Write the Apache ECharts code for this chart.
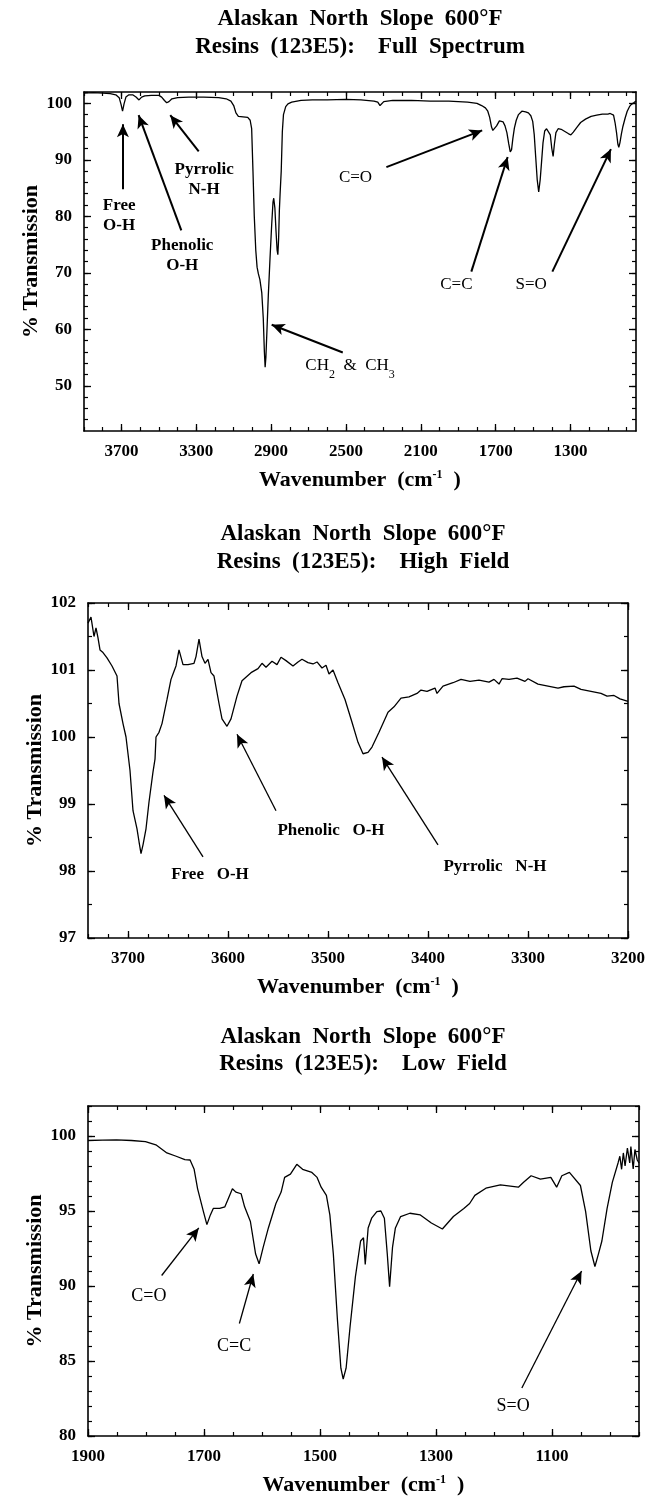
<!DOCTYPE html>
<html>
<head>
<meta charset="utf-8">
<script src="https://cdn.jsdelivr.net/npm/echarts@6/dist/echarts.min.js"></script>
<style>
  html, body { margin: 0; padding: 0; background: #fff; }
  #main { width: 648px; height: 1503px; }
</style>
</head>
<body>
<div id="main"></div>
<script>
// 颜色 / 字体
const ink = '#000';
const serif = 'Liberation Serif';

// ---------- Full Spectrum ----------
const fullWave = [3900,3850,3800,3760,3730,3712,3702,3694,3686,3676,
  3660,3640,3622,3606,3592,3575,3540,3500,3485,3470,
  3458,3446,3430,3400,3340,3260,3180,3140,3115,3100,
  3088,3075,3050,3025,3012,3004,2997,2990,2982,2975,
  2968,2960,2950,2942,2936,2932,2928,2922,2915,2906,
  2897,2890,2886,2880,2874,2868,2864,2860,2856,2852,
  2846,2840,2834,2822,2810,2790,2740,2680,2600,2500,
  2420,2350,2330,2318,2308,2298,2250,2150,2050,1950,
  1850,1800,1775,1755,1742,1732,1722,1715,1705,1695,
  1680,1670,1660,1650,1640,1630,1622,1615,1608,1600,
  1590,1578,1560,1540,1525,1512,1502,1494,1486,1478,
  1470,1462,1455,1447,1438,1428,1418,1408,1400,1393,
  1386,1378,1366,1350,1330,1310,1298,1285,1265,1246,
  1220,1190,1160,1130,1100,1088,1078,1070,1062,1054,
  1047,1042,1036,1028,1020,1008,997,985,975,962,950];
const fullTrans = [101.8,101.9,101.8,101.7,101.5,101.0,99.8,98.6,99.9,101.1,
  101.5,101.5,101.1,100.6,101.1,101.3,101.4,101.4,101.1,100.5,
  100.1,100.3,100.8,101.0,101.1,101.1,101.0,100.8,100.4,99.6,
  98.3,97.7,97.6,97.5,97.0,95.5,88,80,74,71,
  69.8,68.8,66.5,62,56,53.3,55,60,66,72.5,
  78.5,82.5,83.2,81.5,77.5,74,73.2,76,81,84,
  88,95,98,99.4,99.9,100.2,100.5,100.6,100.6,100.7,
  100.6,100.4,100.2,99.6,99.7,100.3,100.5,100.5,100.4,100.4,
  100.2,100.0,99.6,99.2,98.6,97.5,95.8,95.2,95.6,96.0,
  96.9,97.1,96.7,96.0,94.8,92.8,91.4,91.8,93.8,95.6,
  97.0,98.0,98.6,98.5,98.3,97.8,96.8,94.5,90.5,86.5,
  84.3,86.5,89.5,93,95.1,95.5,95.3,94.4,92,90.6,
  92.8,94.8,95.5,95.4,95.0,94.6,94.4,94.9,95.8,96.6,
  97.2,97.7,97.9,98.1,98.1,98.2,98.4,97.9,96.6,94.8,
  92.8,92.2,93.0,94.6,95.9,97.4,98.6,99.4,99.8,100.1,100.4];
const fullXLabels = [3700,3300,2900,2500,2100,1700,1300];
const fullYLabels = [50,60,70,80,90,100];

// ---------- High Field ----------
const highWave = [3740,3737,3734,3732,3730,3728,3725,3721,3716,3712,
  3711,3709,3705,3702,3698,3695,3691,3689,3687,3685,
  3682,3679,3675,3673,3672,3669,3666,3661,3657,3655,
  3652,3649,3645,3640,3634,3632,3629,3626,3623,3620,
  3617,3614,3609,3606,3601,3597,3591,3586,3577,3570,
  3566,3562,3556,3551,3547,3542,3535,3530,3526,3520,
  3515,3511,3506,3502,3499,3495,3490,3483,3476,3470,
  3465,3460,3456,3449,3440,3434,3427,3419,3411,3407,
  3401,3393,3391,3385,3375,3367,3358,3349,3339,3334,
  3329,3326,3319,3311,3303,3300,3290,3280,3270,3264,
  3254,3247,3237,3227,3221,3214,3208,3200];
const highTrans = [101.7,101.79,101.5,101.63,101.48,101.3,101.26,101.18,101.06,100.94,
  100.91,100.5,100.2,100.0,99.5,98.9,98.63,98.44,98.26,98.39,
  98.63,99.03,99.48,99.67,100.0,100.07,100.2,100.56,100.86,100.94,
  101.06,101.3,101.08,101.08,101.1,101.2,101.46,101.2,101.1,101.16,
  100.96,100.91,100.5,100.27,100.16,100.27,100.61,100.84,100.96,101.02,
  101.1,101.04,101.13,101.08,101.19,101.14,101.06,101.12,101.16,101.11,
  101.09,101.12,101.03,101.07,100.94,101.0,100.81,100.56,100.22,99.92,
  99.75,99.77,99.85,100.07,100.37,100.45,100.58,100.60,100.65,100.7,
  100.68,100.73,100.65,100.76,100.81,100.86,100.83,100.85,100.82,100.86,
  100.79,100.87,100.86,100.88,100.83,100.87,100.79,100.76,100.73,100.75,
  100.76,100.71,100.68,100.65,100.61,100.62,100.57,100.53];
const highXLabels = [3700,3600,3500,3400,3300,3200];
const highYLabels = [97,98,99,100,101,102];

// ---------- Low Field ----------
const lowWave = [1900,1875,1851,1825,1801,1783,1764,1748,1733,1724,
  1717,1711,1701,1695,1689,1684,1673,1664,1658,1651,
  1645,1636,1630,1620,1611,1605,1598,1589,1576,1567,
  1561,1551,1540,1530,1514,1505,1498,1489,1483,1477,
  1470,1464,1460,1455,1448,1439,1430,1425,1422,1417,
  1411,1402,1395,1389,1384,1380,1375,1370,1361,1345,
  1327,1308,1289,1270,1252,1242,1233,1214,1189,1158,
  1149,1136,1120,1102,1092,1083,1070,1051,1042,1033,
  1026,1020,1014,1005,996,986,983,980,977,974,
  970,966,964,960,957,953,950];
const lowTrans = [99.7,99.72,99.74,99.7,99.63,99.41,98.87,98.65,98.43,98.4,
  97.78,96.48,94.96,94.09,94.74,95.17,95.17,95.28,95.83,96.48,
  96.26,96.15,95.28,94.3,92.13,91.48,92.57,93.87,95.5,96.26,
  97.24,97.46,98.11,97.78,97.57,97.24,96.59,96.04,94.74,92.13,
  87.78,84.52,83.8,84.52,87.35,90.61,93.0,93.22,91.43,93.87,
  94.52,94.96,95.0,94.52,92.13,89.96,92.57,93.87,94.63,94.85,
  94.74,94.2,93.8,94.63,95.17,95.5,96.04,96.52,96.74,96.59,
  96.91,97.35,97.13,97.24,96.59,97.35,97.57,96.7,94.96,92.35,
  91.3,92.13,93.0,95.17,96.91,98.22,98.65,97.78,98.87,98.0,
  99.2,98.2,99.3,97.8,99.1,98.4,98.2];
const lowXLabels = [1900,1700,1500,1300,1100];
const lowYLabels = [80,85,90,95,100];

// 标注：文字位置 at，箭头 from -> to（数据坐标）
const fullNotes = [
  { text: 'Free\nO-H', at: [3712, 80.1], from: [3692, 84.8], to: [3692, 96.3], bold: true },
  { text: 'Phenolic\nO-H', at: [3375, 73.1], from: [3380, 77.5], to: [3608, 97.9], bold: true },
  { text: 'Pyrrolic\nN-H', at: [3258, 86.5], from: [3287, 91.5], to: [3439, 97.9], bold: true },
  { text: 'C=O', at: [2449, 86.8], from: [2284, 88.7], to: [1772, 95.2] },
  { text: 'C=C', at: [1910, 68], from: [1830, 70.2], to: [1636, 90.5] },
  { text: 'S=O', at: [1510, 68], from: [1397, 70.2], to: [1084, 91.9] },
  { text: 'CH{s|2}  &  CH{s|3}', at: [2478, 53.5], from: [2517, 55.9], to: [2897, 60.8] }
];
const highNotes = [
  { text: 'Free   O-H', at: [3618, 97.94], from: [3625, 98.21], to: [3664, 99.13], bold: true },
  { text: 'Phenolic   O-H', at: [3497, 98.6], from: [3552, 98.9], to: [3591, 100.04], bold: true },
  { text: 'Pyrrolic   N-H', at: [3333, 98.06], from: [3390, 98.39], to: [3446, 99.7], bold: true }
];
const lowNotes = [
  { text: 'C=O', at: [1795, 89.3], from: [1773, 90.7], to: [1709, 93.87] },
  { text: 'C=C', at: [1648, 86.0], from: [1639, 87.5], to: [1615, 90.8] },
  { text: 'S=O', at: [1167, 82.0], from: [1152, 83.2], to: [1049, 91.0] }
];

const subtitles = ['Full  Spectrum', 'High  Field', 'Low  Field'];

// 每个子图的布局
const panels = [
  { grid: { left: 84, top: 92, width: 552, height: 339 }, titleX: 360, titleY: [19, 47],
    xMin: 950, xMax: 3900, yMin: 42, yMax: 102, xMinor: [1000, 3900, 100], yMinor: [44, 102, 2], arrowW: 2, noteSize: 17 },
  { grid: { left: 88, top: 603, width: 550, height: 335 }, titleX: 363, titleY: [534, 562],
    xMin: 3200, xMax: 3740, yMin: 97, yMax: 102, xMinor: [3200, 3740, 20], yMinor: [97, 102, 0.5], arrowW: 1.3, noteSize: 17 },
  { grid: { left: 88, top: 1106, width: 551, height: 330 }, titleX: 363, titleY: [1037, 1064],
    xMin: 950, xMax: 1900, yMin: 80, yMax: 102, xMinor: [950, 1900, 50], yMinor: [80, 102, 1], arrowW: 1.3, noteSize: 18 }
];

function steps(from, to, step) {
  const out = [];
  for (let v = from; v <= to + 1e-9; v += step) out.push(+v.toFixed(2));
  return out;
}

const lineStyle = { color: ink, width: 1.6 };
const tickFont = { color: ink, fontFamily: serif, fontWeight: 'bold', fontSize: 17, formatter: v => String(v) };

function xAxes(g, p, labels) {
  const base = { type: 'value', gridIndex: g, min: p.xMin, max: p.xMax, inverse: true, splitLine: { show: false } };
  const minor = steps(p.xMinor[0], p.xMinor[1], p.xMinor[2]);
  return [
    Object.assign({}, base, {
      position: 'bottom',
      axisLine: { show: true, onZero: false, lineStyle: lineStyle },
      axisTick: { show: true, inside: true, length: 7, lineStyle: { color: ink, width: 1.3 }, customValues: labels },
      axisLabel: Object.assign({ show: true, customValues: labels, margin: 12 }, tickFont),
      name: 'Wavenumber  (cm{sup|-1}  )', nameLocation: 'middle', nameGap: 38, nameMoveOverlap: false,
      nameTextStyle: { color: ink, fontFamily: serif, fontWeight: 'bold', fontSize: 22,
        rich: { sup: { fontSize: 12, fontWeight: 'bold', fontFamily: serif, color: ink, verticalAlign: 'top' } } }
    }),
    Object.assign({}, base, {
      position: 'bottom', axisLine: { show: false, onZero: false },
      axisTick: { show: true, inside: true, length: 4, lineStyle: { color: ink, width: 1.2 }, customValues: minor },
      axisLabel: { show: false }
    }),
    Object.assign({}, base, {
      position: 'top', axisLine: { show: true, onZero: false, lineStyle: lineStyle },
      axisTick: { show: true, inside: true, length: 7, lineStyle: { color: ink, width: 1.3 }, customValues: labels },
      axisLabel: { show: false }
    }),
    Object.assign({}, base, {
      position: 'top', axisLine: { show: false, onZero: false },
      axisTick: { show: true, inside: true, length: 4, lineStyle: { color: ink, width: 1.2 }, customValues: minor },
      axisLabel: { show: false }
    })
  ];
}

function yAxes(g, p, labels) {
  const base = { type: 'value', gridIndex: g, min: p.yMin, max: p.yMax, splitLine: { show: false } };
  const minor = steps(p.yMinor[0], p.yMinor[1], p.yMinor[2]);
  return [
    Object.assign({}, base, {
      position: 'left',
      axisLine: { show: true, onZero: false, lineStyle: lineStyle },
      axisTick: { show: true, inside: true, length: 7, lineStyle: { color: ink, width: 1.3 }, customValues: labels },
      axisLabel: Object.assign({ show: true, customValues: labels, margin: 12 }, tickFont),
      name: '% Transmission', nameLocation: 'middle', nameGap: 42, nameMoveOverlap: false,
      nameTextStyle: { color: ink, fontFamily: serif, fontWeight: 'bold', fontSize: 22 }
    }),
    Object.assign({}, base, {
      position: 'left', axisLine: { show: false, onZero: false },
      axisTick: { show: true, inside: true, length: 4, lineStyle: { color: ink, width: 1.2 }, customValues: minor },
      axisLabel: { show: false }
    }),
    Object.assign({}, base, {
      position: 'right', axisLine: { show: true, onZero: false, lineStyle: lineStyle },
      axisTick: { show: true, inside: true, length: 7, lineStyle: { color: ink, width: 1.3 }, customValues: labels },
      axisLabel: { show: false }
    }),
    Object.assign({}, base, {
      position: 'right', axisLine: { show: false, onZero: false },
      axisTick: { show: true, inside: true, length: 4, lineStyle: { color: ink, width: 1.2 }, customValues: minor },
      axisLabel: { show: false }
    })
  ];
}

// 光谱线 + 箭头
function spectrumSeries(g, wave, trans, notes, p) {
  return {
    type: 'line', xAxisIndex: 4 * g, yAxisIndex: 4 * g,
    data: wave.map((w, i) => [w, trans[i]]),
    symbol: 'none', silent: true,
    lineStyle: { color: ink, width: 1.3 },
    markLine: {
      silent: true, animation: false,
      symbol: ['none', 'arrow'], symbolSize: [9, 13],
      lineStyle: { color: ink, width: p.arrowW, type: 'solid' },
      label: { show: false },
      data: notes.map(n => [{ coord: n.from }, { coord: n.to }])
    }
  };
}

const chart = echarts.init(document.getElementById('main'), null, { renderer: 'canvas' });

chart.setOption({
  animation: false,
  backgroundColor: '#fff',
  textStyle: { fontFamily: serif, color: ink },
  grid: panels.map(p => p.grid),
  xAxis: [].concat(xAxes(0, panels[0], fullXLabels), xAxes(1, panels[1], highXLabels), xAxes(2, panels[2], lowXLabels)),
  yAxis: [].concat(yAxes(0, panels[0], fullYLabels), yAxes(1, panels[1], highYLabels), yAxes(2, panels[2], lowYLabels)),
  series: [
    spectrumSeries(0, fullWave, fullTrans, fullNotes, panels[0]),
    spectrumSeries(1, highWave, highTrans, highNotes, panels[1]),
    spectrumSeries(2, lowWave, lowTrans, lowNotes, panels[2])
  ]
});

// 标题和标注文字（标注位置经坐标轴换算成像素）
const graphics = [];
panels.forEach((p, i) => {
  const lines = ['Alaskan  North  Slope  600°F', 'Resins  (123E5):    ' + subtitles[i]];
  lines.forEach((t, k) => {
    graphics.push({
      type: 'text', x: p.titleX, y: p.titleY[k], silent: true,
      style: { text: t, fill: ink, font: 'bold 23px "' + serif + '"', align: 'center', verticalAlign: 'middle' }
    });
  });
});
[fullNotes, highNotes, lowNotes].forEach((notes, g) => {
  const size = panels[g].noteSize;
  notes.forEach(n => {
    const pt = chart.convertToPixel({ xAxisIndex: 4 * g, yAxisIndex: 4 * g }, n.at);
    graphics.push({
      type: 'text', x: pt[0], y: pt[1], silent: true,
      style: {
        text: n.text, fill: ink, fontFamily: serif, fontSize: size, lineHeight: size + 3,
        fontWeight: n.bold ? 'bold' : 'normal', align: 'center', verticalAlign: 'middle',
        rich: { s: { fontSize: 12, fontFamily: serif, fill: ink, verticalAlign: 'bottom', lineHeight: 30 } }
      }
    });
  });
});
chart.setOption({ graphic: graphics });
</script>
</body>
</html>
